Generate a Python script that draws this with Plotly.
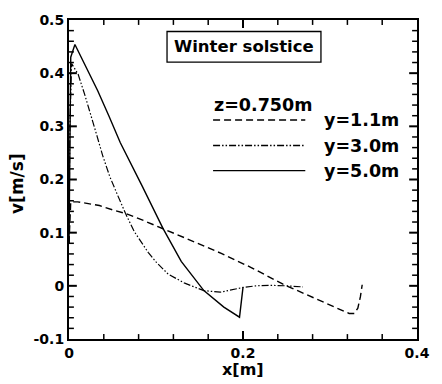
import plotly.graph_objects as go

# ---- data ----
x_y11 = [0.0, 0.002, 0.01, 0.027, 0.035, 0.05, 0.065, 0.084, 0.108, 0.148, 0.175, 0.21, 0.246, 0.28, 0.31, 0.322, 0.328, 0.332, 0.335, 0.337]
v_y11 = [0.08, 0.158, 0.158, 0.153, 0.151, 0.143, 0.136, 0.124, 0.108, 0.080, 0.061, 0.034, 0.003, -0.022, -0.044, -0.052, -0.052, -0.042, -0.02, 0.002]

x_y30 = [0.0, 0.001, 0.003, 0.0105, 0.018, 0.0256, 0.032, 0.0387, 0.047, 0.056, 0.065, 0.075, 0.091, 0.1, 0.114, 0.133, 0.155, 0.174, 0.187, 0.2, 0.215, 0.23, 0.25, 0.269]
v_y30 = [0.08, 0.30, 0.418, 0.398, 0.360, 0.320, 0.283, 0.245, 0.205, 0.170, 0.136, 0.102, 0.063, 0.045, 0.022, 0.005, -0.009, -0.012, -0.008, -0.003, 0.0, 0.001, 0.0, -0.002]

x_y50 = [0.0, 0.002, 0.0068, 0.02, 0.033, 0.046, 0.059, 0.084, 0.108, 0.129, 0.155, 0.178, 0.196, 0.2]
v_y50 = [0.08, 0.43, 0.454, 0.411, 0.367, 0.319, 0.269, 0.188, 0.108, 0.046, -0.009, -0.040, -0.059, -0.003]

x_ticks = [0, 0.2, 0.4]
x_ticklabels = ["0", "0.2", "0.4"]
x_minor = [0.04, 0.08, 0.12, 0.16, 0.24, 0.28, 0.32, 0.36]
y_ticks = [-0.1, 0, 0.1, 0.2, 0.3, 0.4, 0.5]
y_ticklabels = ["-0.1", "0", "0.1", "0.2", "0.3", "0.4", "0.5"]
y_minor = [-0.08, -0.06, -0.04, -0.02, 0.02, 0.04, 0.06, 0.08, 0.12, 0.14, 0.16, 0.18,
           0.22, 0.24, 0.26, 0.28, 0.32, 0.34, 0.36, 0.38, 0.42, 0.44, 0.46, 0.48]

series_names = ["y=1.1m", "y=3.0m", "y=5.0m"]
legend_title = "z=0.750m"
box_title = "Winter solstice"

X_RANGE = [0, 0.4]
Y_RANGE = [-0.1, 0.5]
PLOT_W, PLOT_H = 355, 324   # plot-area size in px (442-69-18, 384-15-45)

FONT = "DejaVu Sans"
DASH = "7px,4px"
DASHDOT = "7px,2px,1.5px,2px,1.5px,2px"
dashes = [DASH, DASHDOT, "solid"]
widths = [1.4, 1.2, 1.4]

fig = go.Figure()
for xs, vs, name, d, w in zip([x_y11, x_y30, x_y50], [v_y11, v_y30, v_y50], series_names, dashes, widths):
    fig.add_trace(go.Scatter(x=xs, y=vs, mode="lines", name=name,
                             line=dict(color="black", width=w, dash=d),
                             showlegend=False, hoverinfo="skip"))

# ---- inside tick marks on all four sides, drawn through the axis scales ----
px_x = (X_RANGE[1] - X_RANGE[0]) / PLOT_W   # data units per px along x
px_y = (Y_RANGE[1] - Y_RANGE[0]) / PLOT_H   # data units per px along y

def tick_trace(xs_list, ys_list, width):
    fig.add_trace(go.Scatter(x=xs_list, y=ys_list, mode="lines", showlegend=False, hoverinfo="skip",
                             connectgaps=False, cliponaxis=False,
                             line=dict(color="black", width=width)))

for vals, ln, w in ((x_ticks[1:-1], 8, 2), (x_minor, 5, 1.5)):
    tx, ty = [], []
    for t in vals:
        tx += [t, t, None, t, t, None]
        ty += [Y_RANGE[0], Y_RANGE[0] + ln * px_y, None, Y_RANGE[1], Y_RANGE[1] - ln * px_y, None]
    tick_trace(tx, ty, w)

for vals, ln, w in ((y_ticks[1:-1], 8, 2), (y_minor, 5, 1.5)):
    tx, ty = [], []
    for t in vals:
        tx += [X_RANGE[0], X_RANGE[0] + ln * px_x, None, X_RANGE[1], X_RANGE[1] - ln * px_x, None]
        ty += [t, t, None, t, t, None]
    tick_trace(tx, ty, w)

axis_common = dict(
    showgrid=False, zeroline=False, showline=True, linecolor="black", linewidth=2,
    mirror=True, ticks="", tickmode="array",
    tickfont=dict(family=FONT, size=14, color="black", weight="bold"),
)
fig.update_xaxes(range=X_RANGE, tickvals=x_ticks, ticktext=x_ticklabels, **axis_common)
fig.update_yaxes(range=Y_RANGE, tickvals=y_ticks, ticktext=y_ticklabels, **axis_common)

# in-plot "legend" drawn as shapes + text
x0, x1 = 0.414, 0.679
ys = [0.6867, 0.6065, 0.5278]
shapes = [dict(type="rect", xref="paper", yref="paper", x0=0.2817, x1=0.724, y0=0.868, y1=0.964,
               line=dict(color="black", width=1.3), fillcolor="white")]
for yv, d in zip(ys, dashes):
    shapes.append(dict(type="line", xref="paper", yref="paper", x0=x0, x1=x1, y0=yv, y1=yv,
                       line=dict(color="black", width=1.4, dash=d)))

tfont = dict(family=FONT, size=16.5, color="black", weight="bold")
lfont = dict(family=FONT, size=17.5, color="black", weight="bold")
ann = [
    dict(text=box_title, x=0.503, y=0.916, xref="paper", yref="paper", showarrow=False,
         xanchor="center", yanchor="middle", font=tfont),
    dict(text=legend_title, x=0.412, y=0.7346, xref="paper", yref="paper", showarrow=False,
         xanchor="left", yanchor="middle", font=lfont),
    dict(text="x[m]", x=0.5, y=0, xref="paper", yref="paper", showarrow=False,
         xanchor="center", yanchor="top", yshift=-19, font=dict(family=FONT, size=16, color="black", weight="bold")),
    dict(text="v[m/s]", x=0, y=0.486, xref="paper", yref="paper", showarrow=False, textangle=-90,
         xanchor="right", yanchor="middle", xshift=-40, font=dict(family=FONT, size=17, color="black", weight="bold")),
]
for yv, name in zip(ys, series_names):
    ann.append(dict(text=name, x=0.7268, y=yv, xref="paper", yref="paper", showarrow=False,
                    xanchor="left", yanchor="middle", font=lfont))

fig.update_layout(
    width=442, height=384,
    margin=dict(l=69, r=18, t=15, b=45, pad=0),
    plot_bgcolor="white", paper_bgcolor="white",
    shapes=shapes, annotations=ann, showlegend=False,
)

fig.write_html("out.html")
